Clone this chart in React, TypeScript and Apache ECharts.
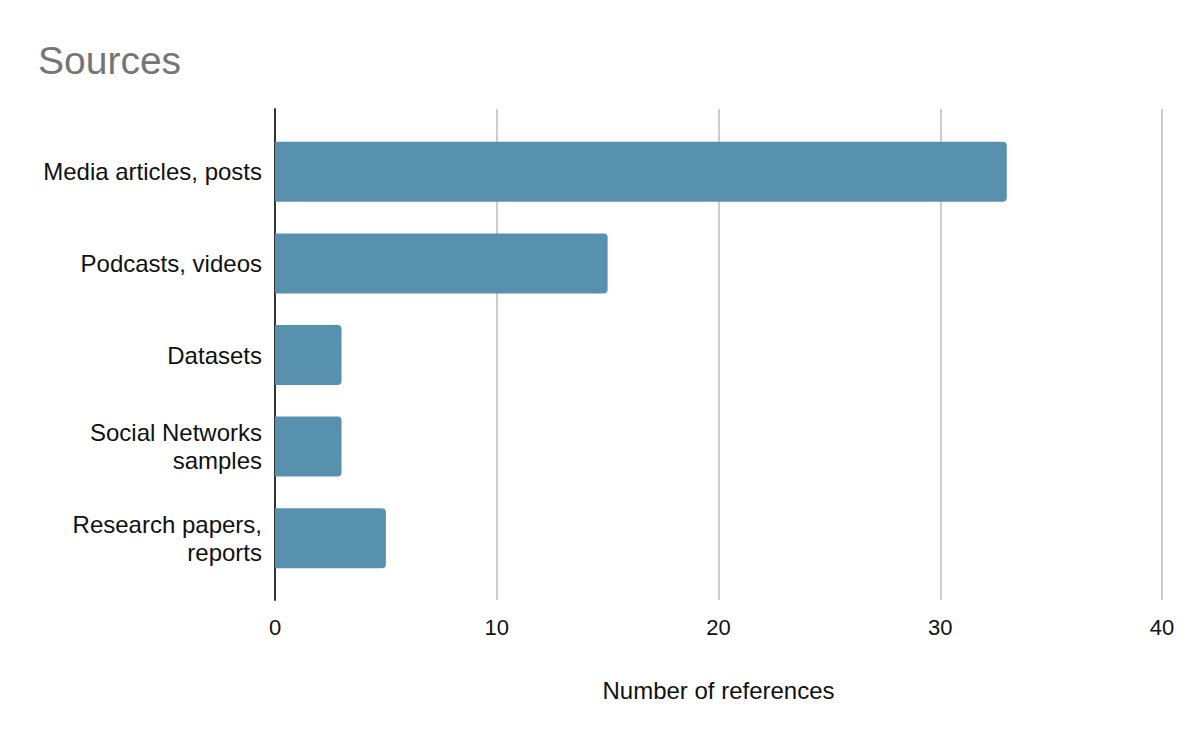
import React, { useEffect, useRef } from "react";
import * as echarts from "echarts";

const categories = [
  "Media articles, posts",
  "Podcasts, videos",
  "Datasets",
  "Social Networks\nsamples",
  "Research papers,\nreports",
];
const values = [33, 15, 3, 3, 5];
const xTicks = { min: 0, max: 40, interval: 10 };

export default function App() {
  const ref = useRef<HTMLDivElement>(null);
  useEffect(() => {
    const chart = echarts.init(ref.current!, null, { renderer: "svg" });
    const font = "'Liberation Sans', Arial, sans-serif";
    chart.setOption({
      animation: false,
      backgroundColor: "#ffffff",
      title: {
        text: "Sources",
        left: 38,
        top: 41,
        padding: 0,
        textStyle: { fontFamily: font, fontSize: 39, fontWeight: "normal", color: "#757575" },
      },
      grid: [
        { left: 275, right: 38, top: 109, bottom: 142 },
        { left: 275, right: 38, top: 126, bottom: 158 },
      ],
      xAxis: [
        {
          type: "value",
          gridIndex: 0,
          min: xTicks.min,
          max: xTicks.max,
          interval: xTicks.interval,
          axisLine: { show: false },
          axisTick: { show: false },
          splitLine: { show: true, lineStyle: { color: "#cccccc", width: 2 } },
          axisLabel: { fontFamily: font, fontSize: 22, color: "#111111", margin: 16 },
          name: "Number of references",
          nameLocation: "middle",
          nameGap: 78,
          nameTextStyle: { fontFamily: font, fontSize: 24, color: "#111111" },
        },
        {
          type: "value",
          gridIndex: 1,
          min: xTicks.min,
          max: xTicks.max,
          show: false,
        },
      ],
      yAxis: [
        {
          type: "value",
          gridIndex: 0,
          min: 0,
          max: 1,
          axisLine: { show: true, onZero: false, lineStyle: { color: "#333333", width: 2 } },
          axisTick: { show: false },
          axisLabel: { show: false },
          splitLine: { show: false },
        },
        {
          type: "category",
          gridIndex: 1,
          data: categories,
          inverse: true,
          axisLine: { show: false },
          axisTick: { show: false },
          splitLine: { show: false },
          axisLabel: {
            fontFamily: font,
            fontSize: 24,
            lineHeight: 28,
            color: "#111111",
            margin: 13,
            align: "right",
          },
        },
      ],
      series: [
        {
          type: "bar",
          xAxisIndex: 1,
          yAxisIndex: 1,
          data: values,
          barWidth: 60,
          itemStyle: { color: "#5891ad", borderRadius: [0, 4, 4, 0] },
        },
      ],
    });
    return () => chart.dispose();
  }, []);
  return (
    <div
      ref={ref}
      style={{ position: "absolute", left: 0, top: 0, width: 1200, height: 742 }}
    />
  );
}
